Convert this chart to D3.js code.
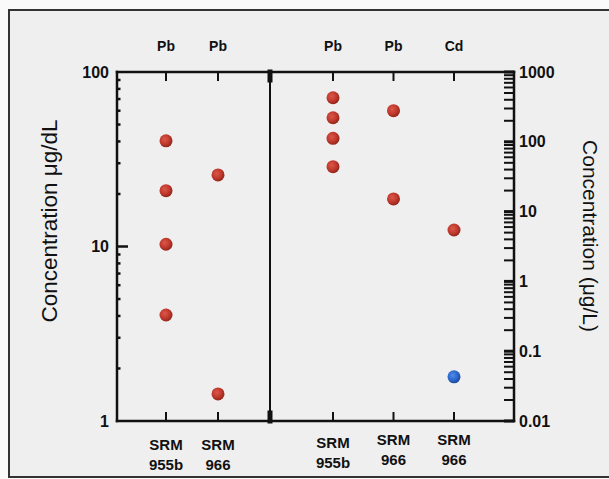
<!DOCTYPE html>
<html>
<head>
<meta charset="utf-8">
<script src="https://cdn.jsdelivr.net/npm/d3@7"></script>
<style>
  html, body { margin: 0; padding: 0; background: #fafafa; }
  svg { display: block; }
  text { font-family: "Liberation Sans", Arial, Helvetica, sans-serif; fill: #111; }
</style>
</head>
<body>
<svg id="chart" width="609" height="479"></svg>
<script>
// Blood lead panel (μg/dL) — SRM 955b and SRM 966
const leftCategories = ["SRM\n955b", "SRM\n966"];
const leftElements = ["Pb", "Pb"];
const leftSRM955b = [40.3, 20.9, 10.3, 4.05];
const leftSRM966 = [25.7, 1.43];

// Second panel (μg/L) — Pb in SRM 955b, Pb in SRM 966, Cd in SRM 966
const rightCategories = ["SRM\n955b", "SRM\n966", "SRM\n966"];
const rightElements = ["Pb", "Pb", "Cd"];
const rightSRM955bPb = [428, 221, 112, 44];
const rightSRM966Pb = [279, 15.2];
const rightSRM966Cd = [5.45];
const rightSRM966CdLow = [0.043];

const leftTicks = [1, 10, 100];
const rightTicks = [0.01, 0.1, 1, 10, 100, 1000];

const svg = d3.select("#chart");

// page background and frame
svg.append("rect").attr("x", 9).attr("y", 10).attr("width", 620).attr("height", 467)
  .attr("fill", "#efefef").attr("stroke", "#333").attr("stroke-width", 2);

const plotTop = 72, plotBottom = 421;
const xL0 = 117, xDiv = 270, xR1 = 514;

const yLeft = d3.scaleLog().domain([1, 100]).range([plotBottom, plotTop]);
const yRight = d3.scaleLog().domain([0.01, 1000]).range([plotBottom, plotTop]);

const xLeft = d3.scalePoint().domain(leftCategories.map((d, i) => i)).range([166, 218]);
const xRight = d3.scalePoint().domain(rightCategories.map((d, i) => i)).range([333, 454]);

// gradients for the shaded markers
const defs = svg.append("defs");
function sphere(id, light, mid, dark) {
  const g = defs.append("radialGradient").attr("id", id)
    .attr("cx", "40%").attr("cy", "38%").attr("r", "65%");
  g.append("stop").attr("offset", "0%").attr("stop-color", light);
  g.append("stop").attr("offset", "55%").attr("stop-color", mid);
  g.append("stop").attr("offset", "100%").attr("stop-color", dark);
}
sphere("red", "#d9584a", "#c23a2e", "#8f2418");
sphere("blue", "#4f8ee6", "#2e69cf", "#1c4598");

// left axis (log, minor ticks inward)
const leftAxis = d3.axisLeft(yLeft).tickValues(leftTicks).tickFormat(d3.format("d")).tickSize(0).tickPadding(8);
const gl = svg.append("g").attr("transform", `translate(${xL0},0)`).call(leftAxis);
gl.select(".domain").remove();
gl.selectAll("text").attr("font-size", 16).attr("font-weight", "bold").attr("font-family", null).attr("fill", "#111");

const leftMinor = yLeft.ticks(10).filter(v => !leftTicks.includes(v));
svg.append("g").selectAll("line").data(leftMinor).join("line")
  .attr("x1", xL0).attr("x2", xL0 + 3.5)
  .attr("y1", d => yLeft(d)).attr("y2", d => yLeft(d))
  .attr("stroke", "#111").attr("stroke-width", 2.5);
svg.append("line").attr("x1", xL0).attr("x2", xL0 + 11)
  .attr("y1", yLeft(10)).attr("y2", yLeft(10)).attr("stroke", "#111").attr("stroke-width", 2.5);

// right axis (log, all ticks inward)
const rightAxis = d3.axisRight(yRight).tickValues(rightTicks)
  .tickFormat(d => d < 1 ? String(d) : d3.format("d")(d)).tickSize(0).tickPadding(5);
const gr = svg.append("g").attr("transform", `translate(${xR1},0)`).call(rightAxis);
gr.select(".domain").remove();
gr.selectAll("text").attr("font-size", 16).attr("font-weight", "bold").attr("font-family", null).attr("fill", "#111");

const rightMinor = yRight.ticks(10);
svg.append("g").selectAll("line").data(rightMinor).join("line")
  .attr("x1", xR1 - 10).attr("x2", xR1)
  .attr("y1", d => yRight(d)).attr("y2", d => yRight(d))
  .attr("stroke", "#111").attr("stroke-width", d => rightTicks.includes(d) ? 3 : 2);

// frame of the plot and the panel divider
function line(x1, y1, x2, y2, w) {
  svg.append("line").attr("x1", x1).attr("y1", y1).attr("x2", x2).attr("y2", y2)
    .attr("stroke", "#111").attr("stroke-width", w || 2.5).attr("stroke-linecap", "square");
}
line(xL0, plotTop, xR1, plotTop);
line(xL0, plotBottom, xR1, plotBottom);
line(xL0, plotTop, xL0, plotBottom);
line(xR1, plotTop, xR1, plotBottom);
line(xDiv, plotTop, xDiv, plotBottom, 2);
line(xDiv, plotTop, xDiv, plotTop + 8, 5);
line(xDiv, plotBottom - 8, xDiv, plotBottom, 5);

// category ticks on top and bottom
const catX = leftCategories.map((d, i) => xLeft(i)).concat(rightCategories.map((d, i) => xRight(i)));
catX.forEach(x => {
  line(x, plotTop, x, plotTop + 8, 2);
  line(x, plotBottom - 8, x, plotBottom, 2);
});

// element labels above the plot
const elements = leftElements.concat(rightElements);
svg.append("g").selectAll("text").data(elements).join("text")
  .attr("x", (d, i) => catX[i]).attr("y", 46).attr("dy", "0.35em")
  .attr("text-anchor", "middle").attr("font-size", 14).attr("font-weight", "bold")
  .text(d => d);

// sample labels below the plot
const catLabels = leftCategories.concat(rightCategories);
const labelY = [445, 445, 443, 440, 440];
catLabels.forEach((lab, i) => {
  const parts = lab.split("\n");
  const t = svg.append("text").attr("x", catX[i]).attr("y", labelY[i])
    .attr("text-anchor", "middle").attr("font-size", 15).attr("font-weight", "bold");
  parts.forEach((p, k) => {
    t.append("tspan").attr("x", catX[i]).attr("dy", k === 0 ? "0.35em" : "1.3em").text(p);
  });
});

// axis titles
svg.append("text").attr("transform", `translate(49,221) rotate(-90)`)
  .attr("text-anchor", "middle").attr("dy", "0.35em").attr("font-size", 22.5)
  .text("Concentration μg/dL");
svg.append("text").attr("transform", `translate(590,236) rotate(90)`)
  .attr("text-anchor", "middle").attr("dy", "0.35em").attr("font-size", 21)
  .text("Concentration (μg/L)");

// markers
const r = 6.5;
function dots(values, x, y, fill) {
  svg.append("g").selectAll("circle").data(values).join("circle")
    .attr("cx", x).attr("cy", d => y(d)).attr("r", r)
    .attr("fill", `url(#${fill})`);
}
dots(leftSRM955b, xLeft(0), yLeft, "red");
dots(leftSRM966, xLeft(1), yLeft, "red");
dots(rightSRM955bPb, xRight(0), yRight, "red");
dots(rightSRM966Pb, xRight(1), yRight, "red");
dots(rightSRM966Cd, xRight(2), yRight, "red");
dots(rightSRM966CdLow, xRight(2), yRight, "blue");
</script>
</body>
</html>
